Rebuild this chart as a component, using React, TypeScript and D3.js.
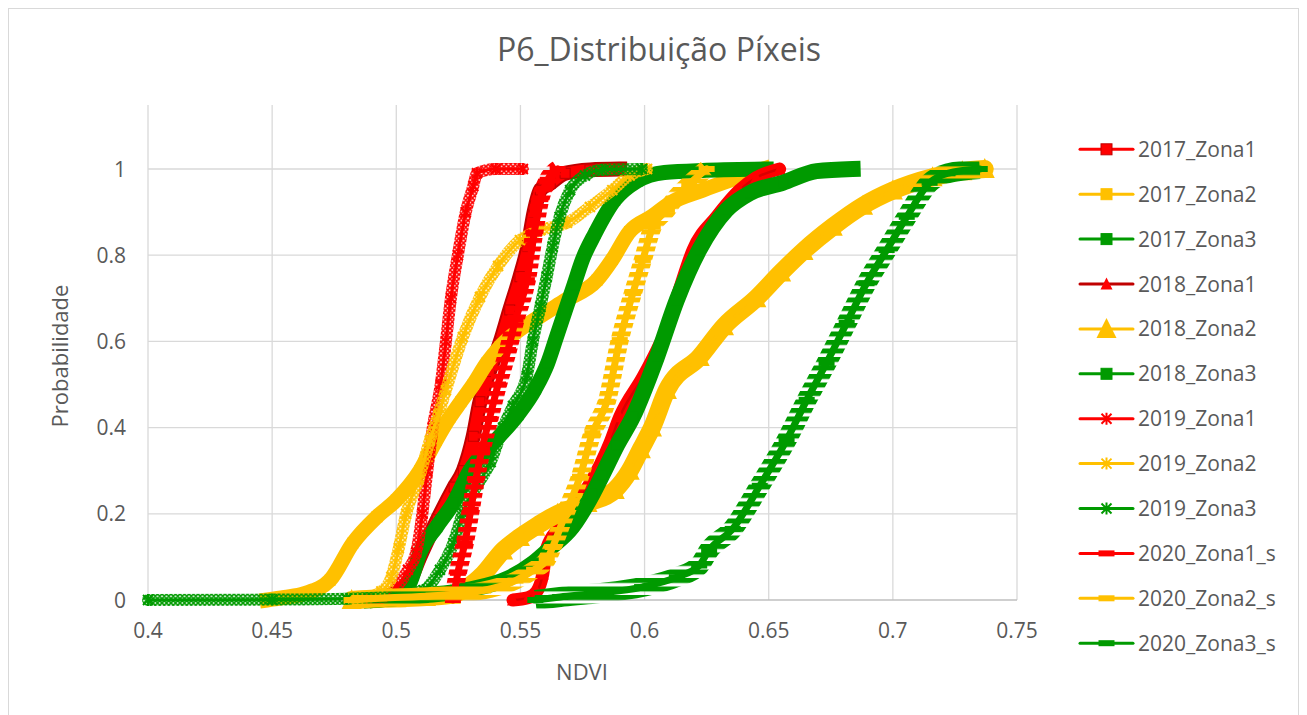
import React from "react";
import * as d3 from "d3";

type Pt = [number, number];

const xTickValues = [0.4, 0.45, 0.5, 0.55, 0.6, 0.65, 0.7, 0.75];
const yTickValues = [0, 0.2, 0.4, 0.6, 0.8, 1];
const seriesNames = [
  "2017_Zona1", "2017_Zona2", "2017_Zona3",
  "2018_Zona1", "2018_Zona2", "2018_Zona3",
  "2019_Zona1", "2019_Zona2", "2019_Zona3",
  "2020_Zona1_s", "2020_Zona2_s", "2020_Zona3_s",
];

// [NDVI, cumulative probability]
const s2017Zona1: Pt[] = [[0.483,0],[0.495,0.008],[0.502,0.022],[0.5055,0.046],[0.5095,0.1],[0.5165,0.186],[0.5233,0.262],[0.527,0.3],[0.531,0.38],[0.5337,0.46],[0.5375,0.53],[0.5417,0.596],[0.5457,0.673],[0.5498,0.75],[0.553,0.82],[0.5555,0.9],[0.558,0.951],[0.562,0.967],[0.568,0.99],[0.578,0.998],[0.59,1]];
const s2017Zona2: Pt[] = [[0.448,0],[0.455,0.006],[0.463,0.015],[0.4733,0.046],[0.4825,0.132],[0.4922,0.193],[0.5,0.232],[0.5095,0.3],[0.516,0.37],[0.5216,0.424],[0.526,0.46],[0.531,0.5],[0.5365,0.55],[0.5417,0.587],[0.548,0.62],[0.557,0.655],[0.568,0.695],[0.5808,0.742],[0.587,0.79],[0.594,0.855],[0.603,0.89],[0.61,0.92],[0.6234,0.951],[0.635,0.975],[0.648,1]];
const s2017Zona3: Pt[] = [[0.492,0],[0.5,0.012],[0.5055,0.04],[0.5095,0.109],[0.5163,0.17],[0.523,0.225],[0.5296,0.3],[0.54,0.37],[0.549,0.43],[0.556,0.49],[0.561,0.55],[0.5645,0.61],[0.568,0.67],[0.5715,0.73],[0.575,0.79],[0.58,0.85],[0.588,0.928],[0.597,0.972],[0.608,0.992],[0.625,0.997],[0.649,1]];
const s2018Zona1: Pt[] = [[0.547,0],[0.553,0.005],[0.5566,0.02],[0.559,0.06],[0.5606,0.12],[0.566,0.17],[0.572,0.22],[0.578,0.27],[0.586,0.364],[0.59,0.425],[0.5993,0.517],[0.605,0.58],[0.609,0.63],[0.614,0.72],[0.6195,0.812],[0.629,0.889],[0.6383,0.951],[0.645,0.98],[0.6544,1]];
const s2018Zona2: Pt[] = [[0.482,0],[0.5,0.004],[0.512,0.007],[0.522,0.012],[0.535,0.06],[0.543,0.115],[0.5498,0.146],[0.556,0.17],[0.565,0.2],[0.577,0.225],[0.588,0.255],[0.594,0.3],[0.5985,0.35],[0.603,0.4],[0.609,0.487],[0.6222,0.564],[0.632,0.635],[0.645,0.7],[0.655,0.76],[0.664,0.81],[0.6758,0.866],[0.688,0.915],[0.7,0.95],[0.716,0.981],[0.728,0.995],[0.737,1]];
const s2018Zona3: Pt[] = [[0.49,0],[0.51,0.01],[0.53,0.025],[0.545,0.05],[0.555,0.085],[0.562,0.12],[0.571,0.17],[0.579,0.245],[0.583,0.29],[0.589,0.36],[0.5953,0.425],[0.605,0.564],[0.613,0.696],[0.622,0.812],[0.633,0.905],[0.6423,0.944],[0.6556,0.968],[0.6693,0.995],[0.6838,1]];
const s2019Zona1: Pt[] = [[0.488,0],[0.497,0.01],[0.5002,0.03],[0.5047,0.07],[0.508,0.11],[0.5105,0.2],[0.5125,0.3],[0.5147,0.4],[0.5179,0.5],[0.52,0.6],[0.522,0.7],[0.5248,0.8],[0.528,0.9],[0.531,0.96],[0.5325,0.99],[0.54,1],[0.551,1]];
const s2019Zona2: Pt[] = [[0.485,0],[0.494,0.02],[0.498,0.053],[0.501,0.12],[0.504,0.2],[0.509,0.28],[0.5135,0.37],[0.517,0.43],[0.52,0.487],[0.5268,0.61],[0.5337,0.703],[0.541,0.775],[0.5498,0.835],[0.558,0.858],[0.5687,0.875],[0.578,0.912],[0.587,0.951],[0.594,0.985],[0.601,1]];
const s2019Zona3: Pt[] = [[0.4,0],[0.45,0.001],[0.48,0.003],[0.5,0.01],[0.511,0.023],[0.5176,0.07],[0.523,0.132],[0.5268,0.202],[0.533,0.27],[0.538,0.32],[0.543,0.4],[0.547,0.45],[0.5526,0.52],[0.555,0.6],[0.558,0.68],[0.5606,0.75],[0.563,0.82],[0.5658,0.889],[0.57,0.951],[0.576,0.985],[0.583,0.998],[0.599,1]];
const s2020Zona1: Pt[] = [[0.5228,0],[0.5248,0.063],[0.5276,0.132],[0.53,0.209],[0.532,0.278],[0.5345,0.35],[0.5375,0.42],[0.541,0.5],[0.545,0.58],[0.548,0.65],[0.5526,0.742],[0.5555,0.85],[0.558,0.93],[0.561,0.975],[0.565,1]];
const s2020Zona2: Pt[] = [[0.482,0],[0.493,0.004],[0.515,0.01],[0.535,0.022],[0.548,0.045],[0.5555,0.07],[0.5606,0.093],[0.563,0.123],[0.5687,0.209],[0.574,0.286],[0.579,0.387],[0.5848,0.46],[0.59,0.603],[0.5953,0.712],[0.5993,0.789],[0.6033,0.866],[0.609,0.905],[0.612,0.93],[0.618,0.965],[0.625,1]];
const s2020Zona3: Pt[] = [[0.556,0],[0.566,0.007],[0.58,0.015],[0.599,0.03],[0.613,0.053],[0.622,0.08],[0.626,0.116],[0.6355,0.165],[0.6464,0.265],[0.6572,0.371],[0.6653,0.464],[0.6733,0.55],[0.6814,0.643],[0.6894,0.735],[0.6975,0.812],[0.7056,0.889],[0.7148,0.968],[0.722,0.99],[0.735,1]];

const allSeries: Pt[][] = [
  s2017Zona1, s2017Zona2, s2017Zona3,
  s2018Zona1, s2018Zona2, s2018Zona3,
  s2019Zona1, s2019Zona2, s2019Zona3,
  s2020Zona1, s2020Zona2, s2020Zona3,
];

const RED = "#FF0000";
const DRED = "#C00000";
const YEL = "#FFC000";
const GRN = "#009A00";

type Kind = "square" | "triangle" | "bigtriangle" | "star" | "dash";
interface Style { color: string; line: string; edge: string; kind: Kind; band: number; }

const styles: Style[] = [
  { color: RED, line: RED, edge: DRED, kind: "square", band: 15 },
  { color: YEL, line: YEL, edge: YEL, kind: "square", band: 15 },
  { color: GRN, line: GRN, edge: GRN, kind: "square", band: 15 },
  { color: RED, line: DRED, edge: RED, kind: "triangle", band: 13 },
  { color: YEL, line: YEL, edge: YEL, kind: "bigtriangle", band: 18 },
  { color: GRN, line: GRN, edge: GRN, kind: "square", band: 16 },
  { color: RED, line: RED, edge: RED, kind: "star", band: 12 },
  { color: YEL, line: YEL, edge: YEL, kind: "star", band: 12 },
  { color: GRN, line: GRN, edge: GRN, kind: "star", band: 12 },
  { color: RED, line: RED, edge: RED, kind: "dash", band: 18 },
  { color: YEL, line: YEL, edge: YEL, kind: "dash", band: 18 },
  { color: GRN, line: GRN, edge: GRN, kind: "dash", band: 20 },
];

function Marker({ kind, cx, cy, color, edge, big }: { kind: Kind; cx: number; cy: number; color: string; edge: string; big?: boolean }) {
  if (kind === "square") {
    const z = big ? 11 : 10;
    return <rect x={cx - z / 2} y={cy - z / 2} width={z} height={z} fill={color} stroke={edge} strokeWidth={1} />;
  }
  if (kind === "triangle" || kind === "bigtriangle") {
    const w = kind === "bigtriangle" ? 20 : 12;
    const h = kind === "bigtriangle" ? 20 : 12;
    return <path d={`M${cx},${cy - h * 0.55}L${cx + w / 2},${cy + h * 0.45}L${cx - w / 2},${cy + h * 0.45}Z`} fill={color} />;
  }
  if (kind === "star") {
    const r = 5;
    return <path d={`M${cx - r},${cy - r}L${cx + r},${cy + r}M${cx - r},${cy + r}L${cx + r},${cy - r}M${cx},${cy - r - 1}L${cx},${cy + r + 1}`} stroke={color} strokeWidth={2} fill="none" />;
  }
  return <rect x={cx - 8} y={cy - 3} width={16} height={6} fill={color} />;
}

export default function App() {
  const x = d3.scaleLinear().domain([0.4, 0.75]).range([148, 1017]);
  const y = d3.scaleLinear().domain([0, 1.1485]).range([600, 105]);
  const line = d3.line<Pt>().x((d) => x(d[0])).y((d) => y(d[1])).curve(d3.curveMonotoneX);
  const font = "'Open Sans', 'Noto Sans', sans-serif";
  const txt = "#595959";
  const legendY = (i: number) => 149.3 + i * 44.9;

  return (
    <svg width={1307} height={715} style={{ position: "absolute", left: 0, top: 0 }} fontFamily={font}>
      <defs>
        {styles.map((s, i) => (
          <pattern key={"h" + i} id={`hatch${i}`} patternUnits="userSpaceOnUse" width={4.5} height={4.5}>
            <path d="M0,0L4.5,4.5M4.5,0L0,4.5M-1,3.5L1,5.5M3.5,-1L5.5,1M-1,1L1,-1M3.5,5.5L5.5,3.5" stroke={s.color} strokeWidth={1.7} />
          </pattern>
        ))}
        {styles.map((s, i) => (
          <pattern key={"s" + i} id={`stripe${i}`} patternUnits="userSpaceOnUse" width={10} height={8.5}>
            <rect x={0} y={0} width={10} height={5} fill={s.color} />
          </pattern>
        ))}
      </defs>
      <rect x={0} y={0} width={1307} height={715} fill="#FFFFFF" />
      <rect x={8.5} y={8.5} width={1290} height={720} fill="#FFFFFF" stroke="#D9D9D9" strokeWidth={1} />

      {/* title */}
      <text x={659} y={61} textAnchor="middle" fontSize={32} fill={txt}>P6_Distribuição Píxeis</text>

      {/* grid */}
      {yTickValues.filter((v) => v > 0).map((v) => (
        <line key={"gy" + v} x1={x(0.4)} x2={x(0.75)} y1={y(v)} y2={y(v)} stroke="#D9D9D9" strokeWidth={1.3} />
      ))}
      {xTickValues.map((v) => (
        <line key={"gx" + v} x1={x(v)} x2={x(v)} y1={105} y2={y(0)} stroke="#D9D9D9" strokeWidth={1.3} />
      ))}
      <line x1={x(0.4)} x2={x(0.75)} y1={y(0)} y2={y(0)} stroke="#BFBFBF" strokeWidth={1.3} />

      {/* tick labels */}
      {yTickValues.map((v) => (
        <text key={"ly" + v} x={126} y={y(v)} dy="0.36em" textAnchor="end" fontSize={21} fill={txt}>{String(v)}</text>
      ))}
      {xTickValues.map((v) => (
        <text key={"lx" + v} x={x(v)} y={638} textAnchor="middle" fontSize={21} fill={txt}>{String(v)}</text>
      ))}

      {/* axis titles */}
      <text x={582} y={680} textAnchor="middle" fontSize={22} fill={txt}>NDVI</text>
      <text transform="translate(68,356) rotate(-90)" textAnchor="middle" fontSize={22} fill={txt}>Probabilidade</text>

      {/* series */}
      {allSeries.map((pts, i) => {
        const s = styles[i];
        const d = line(pts) || "";
        return (
          <g key={"ser" + i}>
            {s.kind === "square" && (
              <>
                <path d={d} fill="none" stroke={s.edge} strokeWidth={s.band} strokeLinejoin="round" strokeLinecap="square" />
                <path d={d} fill="none" stroke={s.color} strokeWidth={s.band - 4} strokeLinejoin="round" strokeLinecap="square" />
              </>
            )}
            {(s.kind === "triangle" || s.kind === "bigtriangle") && (
              <>
                <path d={d} fill="none" stroke={s.color} strokeWidth={s.band} strokeLinejoin="round" strokeLinecap="round" />
                <path d={d} fill="none" stroke={s.line} strokeWidth={2.5} strokeLinejoin="round" opacity={0.6} />
              </>
            )}
            {s.kind === "star" && (
              <>
                <path d={d} fill="none" stroke={`url(#hatch${i})`} strokeWidth={s.band} strokeLinejoin="round" strokeLinecap="round" />
                <path d={d} fill="none" stroke={s.line} strokeWidth={3} strokeLinejoin="round" />
              </>
            )}
            {s.kind === "dash" && (
              <>
                <path d={d} fill="none" stroke={`url(#stripe${i})`} strokeWidth={s.band} strokeLinejoin="round" strokeLinecap="butt" />
                <path d={d} fill="none" stroke={s.line} strokeWidth={7} strokeLinejoin="round" strokeLinecap="round" />
              </>
            )}
            {pts.map((p, j) => (
              <Marker key={j} kind={s.kind} cx={x(p[0])} cy={y(p[1])} color={s.color} edge={s.edge} />
            ))}
          </g>
        );
      })}

      {/* legend */}
      {seriesNames.map((name, i) => {
        const s = styles[i];
        const ly = legendY(i);
        return (
          <g key={"lg" + i}>
            <line x1={1080} x2={1133} y1={ly} y2={ly} stroke={s.line} strokeWidth={3} strokeLinecap="round" />
            <Marker kind={s.kind} cx={1106.5} cy={ly} color={s.color} edge={s.edge} big />
            <text x={1138} y={ly} dy="0.36em" fontSize={21} fill={txt}>{name}</text>
          </g>
        );
      })}
    </svg>
  );
}
